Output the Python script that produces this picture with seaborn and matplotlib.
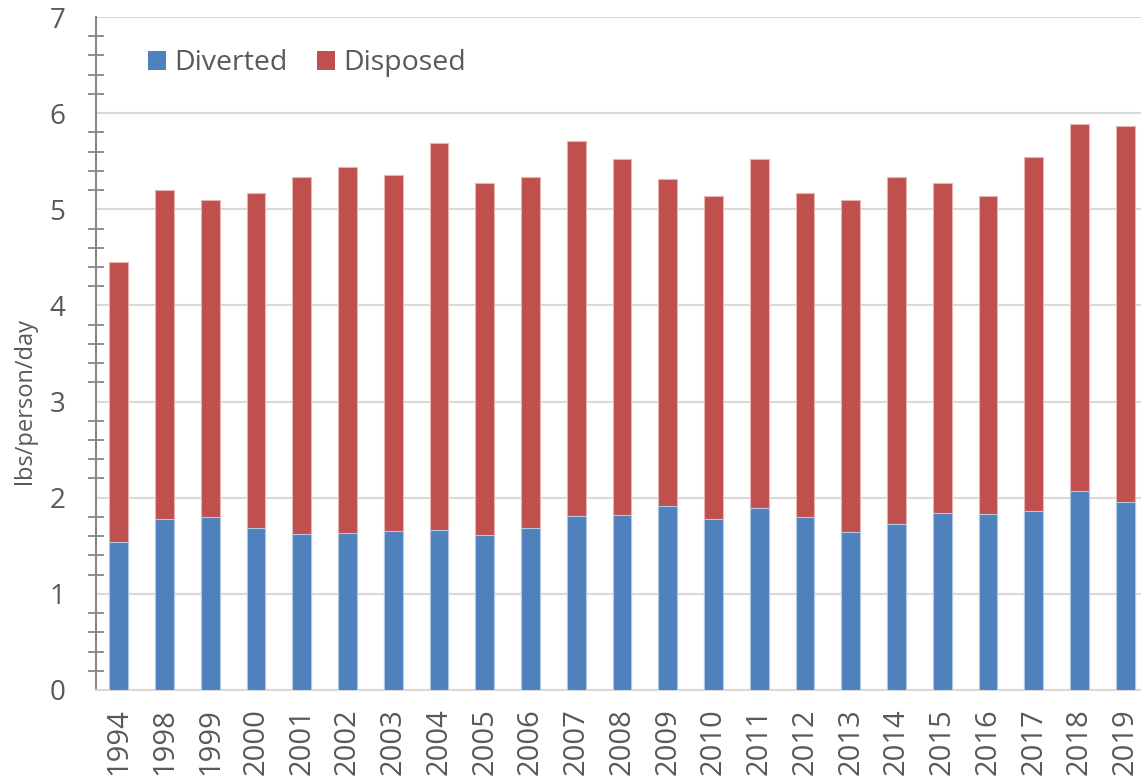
import matplotlib
matplotlib.use("Agg")
import matplotlib.pyplot as plt
import seaborn as sns
import pandas as pd
import numpy as np
from matplotlib.patches import Patch
from matplotlib.ticker import MultipleLocator

years = ["1994", "1998", "1999", "2000", "2001", "2002", "2003", "2004", "2005",
         "2006", "2007", "2008", "2009", "2010", "2011", "2012", "2013", "2014",
         "2015", "2016", "2017", "2018", "2019"]
diverted = [1.54, 1.78, 1.80, 1.69, 1.62, 1.63, 1.65, 1.66, 1.61, 1.68, 1.81, 1.82,
            1.91, 1.78, 1.89, 1.80, 1.64, 1.73, 1.84, 1.83, 1.86, 2.07, 1.96]
disposed = [2.91, 3.42, 3.30, 3.48, 3.72, 3.81, 3.71, 4.03, 3.66, 3.66, 3.90, 3.70,
            3.40, 3.36, 3.63, 3.37, 3.46, 3.61, 3.43, 3.31, 3.68, 3.82, 3.91]

BLUE = "#4F81BD"
RED = "#C0504D"
TXT = "#595959"

df = pd.DataFrame({"year": years, "Diverted": diverted, "Disposed": disposed})
df["Total"] = df["Diverted"] + df["Disposed"]

sns.set_theme(style="white")
plt.rcParams["font.family"] = ["Open Sans", "DejaVu Sans"]

fig = plt.figure(figsize=(11.41, 7.77), dpi=100)
ax = fig.add_axes([96 / 1141, 87 / 777, 1052 / 1141, 673 / 777])

sns.barplot(data=df, x="year", y="Total", color=RED, saturation=1, width=0.41,
            edgecolor="#E8B4B2", linewidth=0.8, ax=ax, zorder=3)
sns.barplot(data=df, x="year", y="Diverted", color=BLUE, saturation=1, width=0.41,
            edgecolor="#B4C8E2", linewidth=0.8, ax=ax, zorder=4)

ax.set_ylim(0, 7)
ax.set_xlim(-0.5, len(years) - 0.5)
ax.yaxis.set_major_locator(MultipleLocator(1))
ax.yaxis.set_minor_locator(MultipleLocator(0.2))
ax.grid(axis="y", which="major", color="#D9D9D9", linewidth=1.5, zorder=0)
ax.set_axisbelow(True)

for s in ["top", "right"]:
    ax.spines[s].set_visible(False)
ax.spines["left"].set_color("#868686")
ax.spines["left"].set_linewidth(1.5)
ax.spines["bottom"].set_color("#D9D9D9")
ax.spines["bottom"].set_linewidth(1.5)

ax.tick_params(axis="y", which="major", direction="inout", length=14, width=1.5,
               color="#868686", labelsize=20, labelcolor=TXT, pad=15)
ax.tick_params(axis="y", which="minor", direction="inout", length=11.5, width=1.3,
               color="#868686", left=True)
ax.tick_params(axis="x", which="both", length=0, labelsize=21, labelcolor=TXT,
               rotation=90, pad=13)

ax.set_xlabel("")
ax.set_ylabel("lbs/person/day", fontsize=17, color=TXT)
ax.yaxis.set_label_coords(-0.056, 0.43)

handles = [Patch(facecolor=BLUE, edgecolor="none", label="Diverted"),
           Patch(facecolor=RED, edgecolor="none", label="Disposed")]
ax.legend(handles=handles, loc="upper left", bbox_to_anchor=(0.025, 0.99), ncol=2,
          frameon=False, fontsize=20.5, labelcolor=TXT, handlelength=0.63,
          handleheight=0.63, handletextpad=0.28, columnspacing=1.05)

fig.savefig("out.png", dpi=100)
